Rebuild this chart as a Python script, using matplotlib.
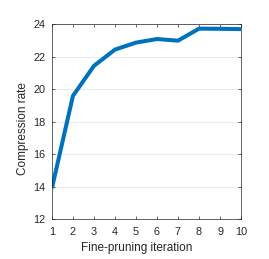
import matplotlib
matplotlib.use("Agg")
import matplotlib.pyplot as plt

# datos
iteraciones = [1, 2, 3, 4, 5, 6, 7, 8, 9, 10]
tasa_compresion = [13.9, 19.58, 21.43, 22.43, 22.86, 23.08, 22.98, 23.72, 23.71, 23.69]
ticks_y = [12, 14, 16, 18, 20, 22, 24]

plt.rcParams['font.family'] = ['Liberation Sans', 'DejaVu Sans']

fig = plt.figure(figsize=(2.69, 2.59), dpi=100)
ax = fig.add_axes([0.193, 0.154, 0.703, 0.753])

ax.plot(iteraciones, tasa_compresion, color="#0072BD", linewidth=2.9, solid_capstyle='butt')

ax.set_xlim(1, 10)
ax.set_ylim(12, 24)
ax.set_xticks(iteraciones)
ax.set_yticks(ticks_y)
ax.yaxis.grid(True, color="#e6e6e6", linewidth=0.6)
ax.set_axisbelow(True)

ax.tick_params(direction='in', top=True, right=True, length=2.5, width=0.5,
               labelsize=7.8, colors="#262626")
ax.tick_params(axis='x', pad=5.5)
ax.tick_params(axis='y', pad=4.5)
for lado in ax.spines.values():
    lado.set_color("#262626")
    lado.set_linewidth(0.5)

ax.set_xlabel("Fine-pruning iteration", fontsize=8.5, color="#262626")
ax.xaxis.set_label_coords(0.447, -0.115)
ax.set_ylabel("Compression rate", fontsize=8.5, color="#262626")
ax.yaxis.set_label_coords(-0.122, 0.464)

fig.savefig("out.png", dpi=100)
